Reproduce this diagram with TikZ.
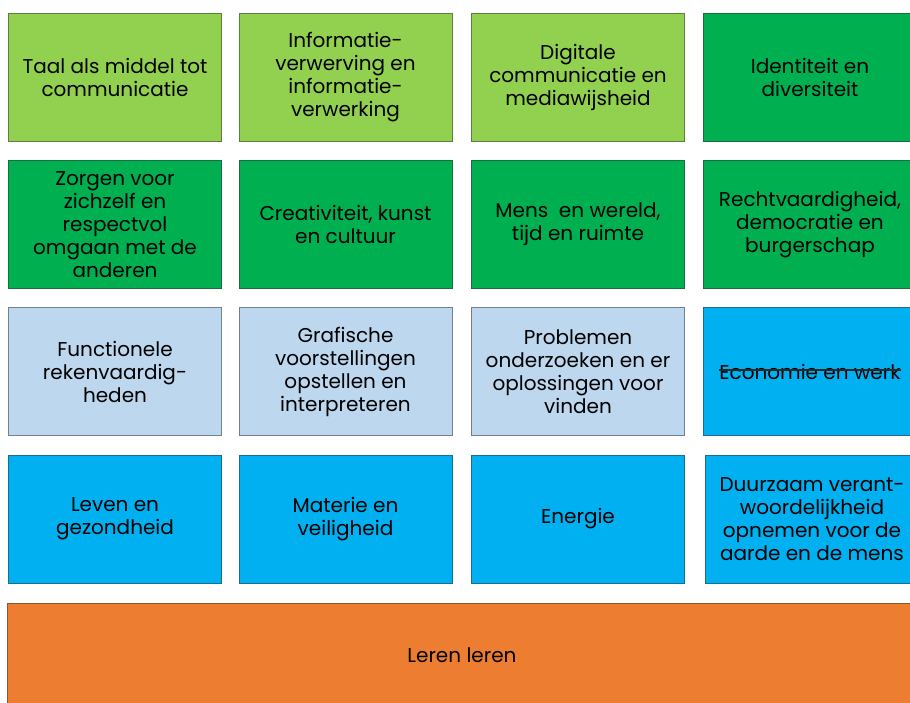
\documentclass[tikz,border=0pt]{standalone}
\usepackage{fontspec}
\setmainfont{Poppins}
\definecolor{lgreen}{HTML}{92D050}
\definecolor{dgreen}{HTML}{00B050}
\definecolor{lblue}{HTML}{BDD7EE}
\definecolor{dblue}{HTML}{00B0F0}
\definecolor{orng}{HTML}{ED7D31}
\tikzset{
  tile/.style={draw=#1!60!black!80!gray, fill=#1, line width=1pt, minimum width=213pt, minimum height=128pt,
    align=center, inner sep=2pt, font=\fontsize{20}{23}\selectfont, text=black},
}
\begin{document}
\begin{tikzpicture}[x=1pt,y=-1pt]
\useasboundingbox (0,0) rectangle (910,703);
\clip (0,0) rectangle (910,703);
% row 1
\node[tile=lgreen] (t11) at (115,77.5) {Taal als middel tot\\communicatie};
\node[tile=lgreen] (t12) at (345.5,77.5) {Informatie-\\verwerving en\\informatie-\\verwerking};
\node[tile=lgreen] (t13) at (578,77.5) {Digitale\\communicatie en\\mediawijsheid};
\node[tile=dgreen] (t14) at (810,77.5) {Identiteit en\\diversiteit};
% row 2
\node[tile=dgreen] (t21) at (115,224.5) {Zorgen voor\\zichzelf en\\respectvol\\omgaan met de\\anderen};
\node[tile=dgreen] (t22) at (345.5,224.5) {Creativiteit, kunst\\en cultuur};
\node[tile=dgreen] (t23) at (578,224.5) {Mens\ \ en wereld,\\tijd en ruimte};
\node[tile=dgreen] (t24) at (810,224.5) {Rechtvaardigheid,\\democratie en\\burgerschap};
% row 3
\node[tile=lblue] (t31) at (115,371.5) {Functionele\\rekenvaardig-\\heden};
\node[tile=lblue] (t32) at (345.5,371.5) {Grafische\\voorstellingen\\opstellen en\\interpreteren};
\node[tile=lblue] (t33) at (578,371.5) {Problemen\\onderzoeken en er\\oplossingen voor\\vinden};
\node[tile=dblue] (t34) at (810,371.5) {};
\node[font=\fontsize{20}{23}\selectfont, inner sep=0pt] (eco) at (810,372) {Economie en werk};
\draw[line width=1.2pt, black!85] ([yshift=2pt]eco.west) -- ([yshift=2pt]eco.east);
% row 4
\node[tile=dblue] (t41) at (115,519) {Leven en\\gezondheid};
\node[tile=dblue] (t42) at (345.5,519) {Materie en\\veiligheid};
\node[tile=dblue] (t43) at (578,519) {Energie};
\node[tile=dblue] (t44) at (812,519) {Duurzaam verant-\\woordelijkheid\\opnemen voor de\\aarde en de mens};
% base
\node[draw=orng!60!black!80!gray, fill=orng, line width=1pt, minimum width=910pt, minimum height=104pt,
  font=\fontsize{20}{23}\selectfont] (base) at (462,655) {Leren leren};
\end{tikzpicture}
\end{document}
